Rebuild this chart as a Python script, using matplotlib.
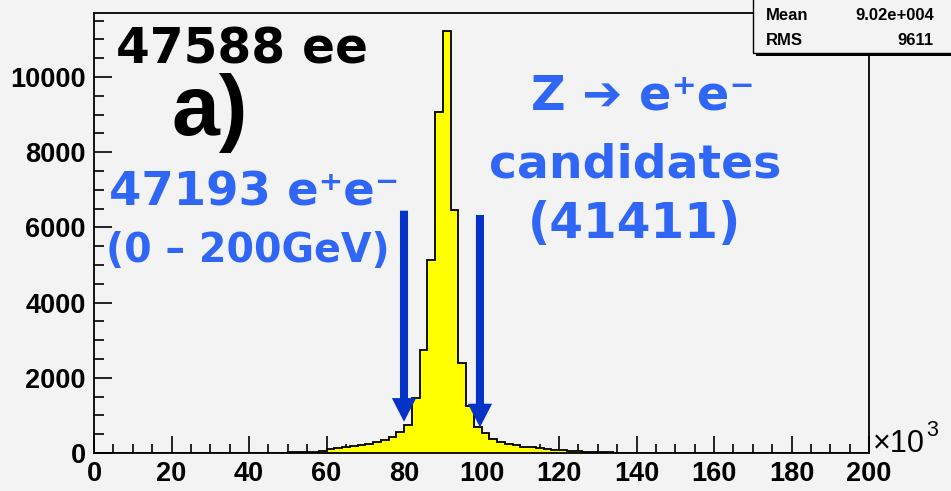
import numpy as np
import matplotlib
matplotlib.use("Agg")
import matplotlib.pyplot as plt
from matplotlib.patches import Rectangle
from matplotlib.ticker import MultipleLocator

# ---------------- data ----------------
bin_edges = np.arange(0, 202, 2)  # invariant mass, x10^3 (MeV)
counts = [
    0, 0, 0, 0, 0, 0, 0, 0, 0, 0,          # 0-18
    0, 0, 0, 0, 0, 0, 0, 0, 0, 0,          # 20-38
    2, 3, 5, 8, 12, 15, 20, 25, 30, 45,    # 40-58
    100, 120, 165, 185, 205, 240, 280, 340, 430, 570,   # 60-78
    740, 1460, 2750, 5120, 9060, 11220, 6470, 2400, 1250, 700,  # 80-98
    525, 365, 280, 240, 200, 170, 150, 125, 100, 85,    # 100-118
    70, 55, 42, 32, 22, 18, 15, 12, 10, 9,              # 120-138
    8, 8, 7, 7, 7, 6, 6, 6, 5, 5,                       # 140-158
    5, 5, 5, 4, 4, 4, 4, 4, 3, 3,                       # 160-178
    3, 3, 3, 3, 3, 2, 2, 2, 2, 2,                       # 180-198
]
x_ticks = [0, 20, 40, 60, 80, 100, 120, 140, 160, 180, 200]
y_ticks = [0, 2000, 4000, 6000, 8000, 10000]
stats_labels = ["Mean", "RMS"]
stats_values = ["9.02e+004", "9611"]
cut_x = [80, 99.6]
cut_tip_y = [832, 683]
cut_top_y = [6443, 6329]

BG = "#f3f3f3"
BLUE = "#2f66f5"
DARKBLUE = "#0533c8"

W, H = 951, 491
fig = plt.figure(figsize=(W / 100, H / 100), dpi=100, facecolor=BG)

def fx(px):
    return px / W

def fy(py):
    return 1 - py / H

ax = fig.add_axes([fx(94), fy(453), (869 - 94) / W, (453 - 13) / H])
ax.set_facecolor(BG)

ax.stairs(counts, bin_edges, fill=True, color="#ffff00", zorder=2)
ax.stairs(counts, bin_edges, color="black", lw=1.3, zorder=3)

ax.set_xlim(0, 200)
ax.set_ylim(0, 11700)
ax.set_xticks(x_ticks)
ax.set_yticks(y_ticks)
ax.xaxis.set_minor_locator(MultipleLocator(5))
ax.yaxis.set_minor_locator(MultipleLocator(500))
ax.tick_params(which="both", direction="in", top=False, right=False, width=1.2, color="black")
ax.tick_params(which="major", axis="x", length=12, pad=6)
ax.tick_params(which="minor", axis="x", length=6.5)
ax.tick_params(which="major", axis="y", length=13, pad=6)
ax.tick_params(which="minor", axis="y", length=7)
for lab in ax.get_xticklabels() + ax.get_yticklabels():
    lab.set_fontfamily("Liberation Sans")
    lab.set_fontweight("bold")
    lab.set_fontsize(19.5)
for s in ax.spines.values():
    s.set_linewidth(1.3)
    s.set_color("black")

# cut arrows
for x0, yt, y1 in zip(cut_x, cut_tip_y, cut_top_y):
    ax.annotate("", xy=(x0, yt), xytext=(x0, y1),
                arrowprops=dict(width=5.8, headwidth=17.5, headlength=17,
                                shrink=0.0, facecolor=DARKBLUE, edgecolor="none", lw=0),
                zorder=5)

# x10^3 label
fig.text(fx(873), fy(452), "×10", fontsize=22, family="Liberation Sans",
         ha="left", va="baseline")
fig.text(fx(926), fy(436), "3", fontsize=15.5, family="Liberation Sans",
         ha="left", va="baseline")

# stats box
box = Rectangle((fx(753), fy(53)), fx(300), fy(-20) - fy(53), transform=fig.transFigure,
                facecolor=BG, edgecolor="black", lw=1.0, zorder=10)
shadow = Rectangle((fx(756), fy(56)), fx(300), fy(53) - fy(56), transform=fig.transFigure,
                   facecolor="black", edgecolor="none", zorder=9)
fig.patches.extend([shadow, box])
for i, (lab, val) in enumerate(zip(stats_labels, stats_values)):
    yb = [20, 45][i]
    fig.text(fx(766), fy(yb), lab, fontsize=12, family="Liberation Sans",
             weight="bold", ha="left", va="baseline", zorder=11)
    fig.text(fx(934), fy(yb), val, fontsize=12, family="Liberation Sans",
             weight="bold", ha="right", va="baseline", zorder=11)

# annotations
fig.text(fx(116), fy(63), "47588 ee", fontsize=35, family="DejaVu Sans",
         weight="bold", color="black", ha="left", va="baseline")
fig.text(fx(171), fy(135), "a)", fontsize=62, family="Liberation Sans",
         weight="bold", color="black", ha="left", va="baseline")
fig.text(fx(109), fy(205), "47193 e\u207ae\u207b", fontsize=33.5, family="DejaVu Sans",
         weight="bold", color=BLUE, ha="left", va="baseline")
fig.text(fx(106), fy(262), "(0 \u2013 200GeV)", fontsize=28.5, family="DejaVu Sans",
         weight="bold", color=BLUE, ha="left", va="baseline")
fig.text(fx(643), fy(110), "Z \u2794 e\u207ae\u207b", fontsize=34.5, family=["DejaVu Sans"],
         weight="bold", color=BLUE, ha="center", va="baseline")
fig.text(fx(635), fy(178), "candidates", fontsize=34, family="DejaVu Sans",
         weight="bold", color=BLUE, ha="center", va="baseline")
fig.text(fx(635), fy(238), "(41411)", fontsize=35, family="DejaVu Sans",
         weight="bold", color=BLUE, ha="center", va="baseline")

fig.savefig("out.png", dpi=100, facecolor=BG)
